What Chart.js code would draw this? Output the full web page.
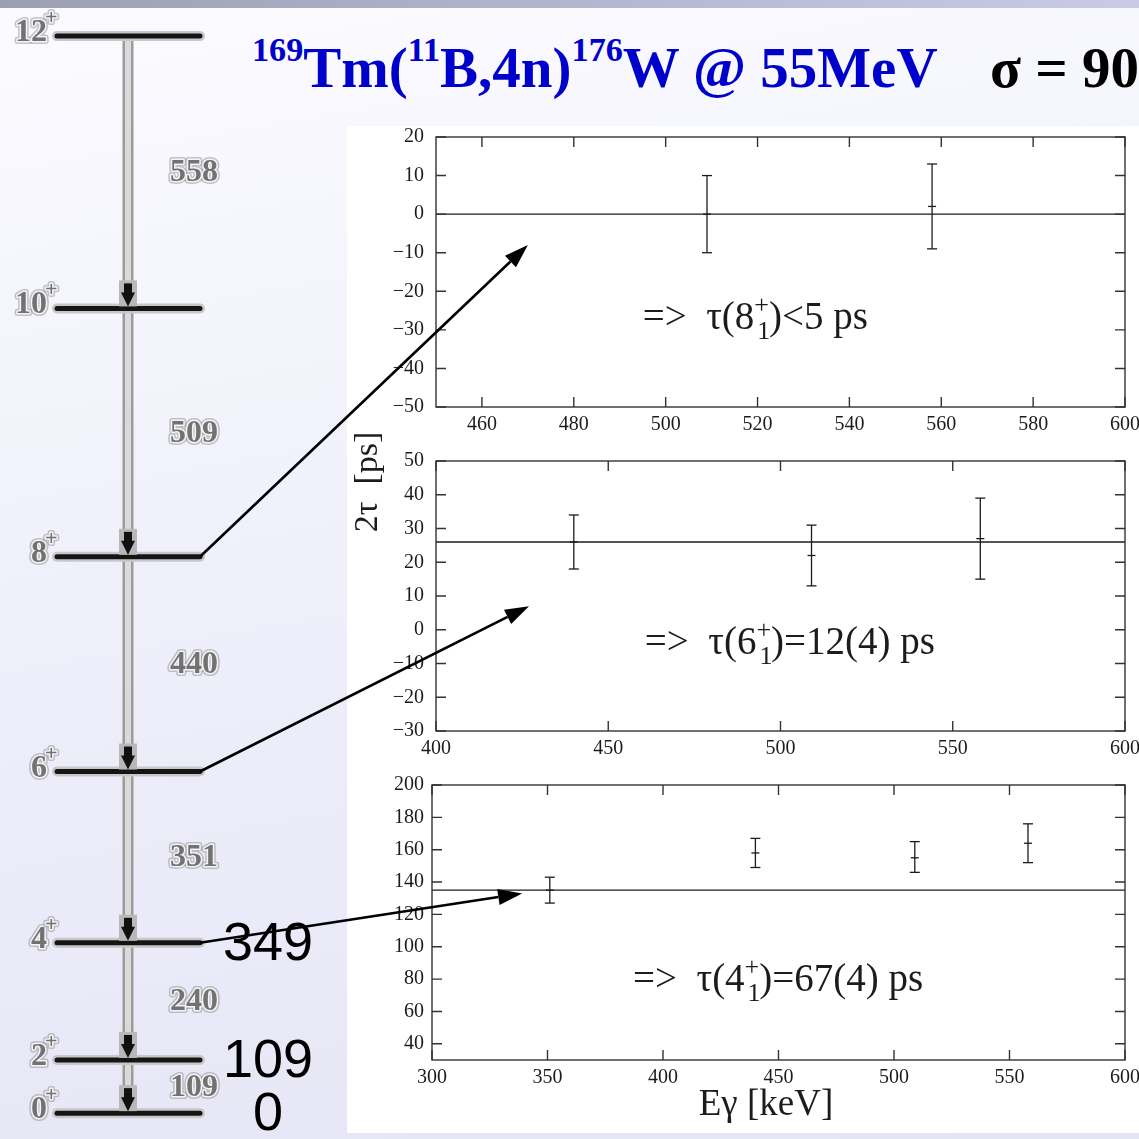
<!DOCTYPE html>
<html>
<head>
<meta charset="utf-8">
<title>176W lifetimes</title>
<script src="https://cdn.jsdelivr.net/npm/chart.js@4.4.1/dist/chart.umd.min.js"></script>
<style>
  html, body { margin: 0; padding: 0; }
  body {
    width: 1139px; height: 1139px; overflow: hidden; position: relative;
    background: linear-gradient(170deg, #fbfbff 0%, #f0f0fb 45%, #e4e4f5 100%);
  }
  #band { position: absolute; left: 0; top: 0; width: 1139px; height: 8px;
    background: linear-gradient(90deg, #9d9db3, #b9b9d3 60%, #cacae6); }
  #paper { position: absolute; left: 347px; top: 126px; width: 792px; height: 1007px; background: #fff; }
  canvas { position: absolute; }
  .head { position: absolute; top: 33px; font: bold 57px "Liberation Serif", serif; line-height: 70px; white-space: nowrap; }
  .head sup { font-size: 0.6em; vertical-align: baseline; position: relative; top: -0.75em; }
</style>
</head>
<body>
<div id="band"></div>
<div id="paper"></div>
<div class="head" style="left:252px;color:#0000cc"><sup>169</sup>Tm(<sup>11</sup>B,4n)<sup>176</sup>W @ 55MeV</div>
<div class="head" style="left:990px;color:#000">σ = 90°</div>
<canvas id="levels" width="350" height="1139" style="left:0;top:0"></canvas>
<canvas id="p1" width="813" height="310" style="left:347px;top:125px"></canvas>
<canvas id="p2" width="813" height="340" style="left:347px;top:420px"></canvas>
<canvas id="p3" width="813" height="369" style="left:347px;top:770px"></canvas>
<canvas id="arrows" width="1139" height="1139" style="left:0;top:0"></canvas>
<script>
// ground band of 176W
const spins = [0, 2, 4, 6, 8, 10, 12];
const levelE = [0, 109, 349, 700, 1140, 1649, 2207];
const gammaE = [109, 240, 351, 440, 509, 558];
const markedE = [349, 109, 0];

// 2tau vs E_gamma, one panel per level
const e8 = [509, 558];
const t8 = [0, 2];
const lo8 = [-10, -9];
const hi8 = [10, 13];
const fit8 = 0;

const e6 = [440, 509, 558];
const t6 = [26, 22, 27];
const lo6 = [18, 13, 15];
const hi6 = [34, 31, 39];
const fit6 = 26;

const e4 = [351, 440, 509, 558];
const t4 = [135, 158, 155, 164];
const lo4 = [127, 149, 146, 152];
const hi4 = [143, 167, 165, 176];
const fit4 = 135;

const xTicks8 = [460, 480, 500, 520, 540, 560, 580, 600];
const yTicks8 = [-50, -40, -30, -20, -10, 0, 10, 20];
const xTicks6 = [400, 450, 500, 550, 600];
const yTicks6 = [-30, -20, -10, 0, 10, 20, 30, 40, 50];
const xTicks4 = [300, 350, 400, 450, 500, 550, 600];
const yTicks4 = [40, 60, 80, 100, 120, 140, 160, 180, 200];

// arrows: from level (energy) to a spot inside the panel (data units)
const arrowFromE = [1140, 700, 349];
const arrowToX = [470, 427, 339];
const arrowToY = [-8, 7, 133];

const ink = '#1c1c1c';
const serif = '"Liberation Serif", "Times New Roman", serif';
const fmt = v => (v < 0 ? '\u2212' + Math.abs(v) : String(v));

// ---- level scheme ----
const levelLeft = 57, levelRight = 200, stemX = 128;

function ghost(ctx, txt, px, py, align, font) {
  ctx.font = font;
  ctx.textAlign = align;
  ctx.lineJoin = 'round';
  ctx.strokeStyle = 'rgba(140,140,150,0.5)';
  ctx.lineWidth = 6;
  ctx.strokeText(txt, px, py);
  ctx.strokeStyle = '#f4f4f4';
  ctx.lineWidth = 3;
  ctx.strokeText(txt, px, py);
  ctx.fillStyle = '#727272';
  ctx.fillText(txt, px, py);
}

const schemeText = {
  id: 'schemeText',
  afterDatasetsDraw(chart) {
    const {ctx, scales: {x, y}} = chart;
    ctx.save();
    // arrow tips of the stem
    const sx = x.getPixelForValue(stemX);
    levelE.slice(0, -1).forEach(E => {
      const py = y.getPixelForValue(E) - 2;
      ctx.fillStyle = '#b8b8b8';
      ctx.fillRect(sx - 9, py - 26, 18, 26);
      ctx.fillStyle = '#111';
      ctx.beginPath();
      ctx.moveTo(sx - 7, py - 14);
      ctx.lineTo(sx + 7, py - 14);
      ctx.lineTo(sx, py);
      ctx.closePath();
      ctx.fill();
      ctx.fillRect(sx - 4, py - 23, 8, 10);
    });
    ctx.textBaseline = 'alphabetic';
    spins.forEach((s, i) => {
      const py = y.getPixelForValue(levelE[i]);
      ghost(ctx, String(s), x.getPixelForValue(47), py + 5, 'right', 'bold 32px ' + serif);
      ghost(ctx, '+', x.getPixelForValue(45), py - 12, 'left', 'bold 22px ' + serif);
    });
    gammaE.forEach((g, i) => {
      const py = y.getPixelForValue((levelE[i] + levelE[i + 1]) / 2);
      ghost(ctx, String(g), x.getPixelForValue(194), py + 9, 'center', 'bold 32px ' + serif);
    });
    ctx.fillStyle = '#000';
    ctx.textAlign = 'center';
    ctx.textBaseline = 'middle';
    ctx.font = '54px "Liberation Sans", Arial, sans-serif';
    markedE.forEach(E => ctx.fillText(String(E), x.getPixelForValue(268), y.getPixelForValue(E) + 2));
    ctx.restore();
  }
};

// Chart.js paints the first dataset on top, so levels come first
const schemeSets = [];
levelE.forEach(E => schemeSets.push({
  data: [{x: levelLeft, y: E}, {x: levelRight, y: E}], borderColor: '#151515', borderWidth: 5, borderCapStyle: 'round'
}));
levelE.forEach(E => schemeSets.push({
  data: [{x: levelLeft, y: E}, {x: levelRight, y: E}], borderColor: '#c8c8c8', borderWidth: 10, borderCapStyle: 'round'
}));
schemeSets.push(
  {data: [{x: stemX, y: levelE[0]}, {x: stemX, y: levelE[levelE.length - 1]}], borderColor: '#dadada', borderWidth: 6},
  {data: [{x: stemX, y: levelE[0]}, {x: stemX, y: levelE[levelE.length - 1]}], borderColor: '#9c9c9c', borderWidth: 11}
);
schemeSets.forEach(d => { d.showLine = true; d.pointRadius = 0; });

const scheme = new Chart(document.getElementById('levels'), {
  type: 'scatter',
  data: {datasets: schemeSets},
  options: {
    responsive: false, animation: false, devicePixelRatio: 1,
    layout: {padding: 0, autoPadding: false},
    plugins: {legend: {display: false}, tooltip: {enabled: false}},
    scales: {
      x: {type: 'linear', min: 0, max: 350, display: false},
      y: {type: 'linear', min: -53, max: 2281, display: false}
    }
  },
  plugins: [schemeText]
});

// ---- panels ----
function drawNote(ctx, px, py, spin, rest) {
  ctx.fillStyle = ink;
  ctx.textAlign = 'left';
  ctx.textBaseline = 'alphabetic';
  ctx.font = '39px ' + serif;
  const head = '=>  \u03c4(' + spin;
  ctx.fillText(head, px, py);
  let x = px + ctx.measureText(head).width;
  ctx.font = '26px ' + serif;
  ctx.fillText('+', x, py - 16);
  ctx.fillText('1', x + 3, py + 10);
  x += ctx.measureText('+').width;
  ctx.font = '39px ' + serif;
  ctx.fillText(')' + rest, x, py);
}

const frame = {
  id: 'frame',
  afterDraw(chart, args, o) {
    const {ctx, chartArea: a, scales: {x, y}} = chart;
    ctx.save();
    ctx.strokeStyle = '#333';
    ctx.lineWidth = 1.4;
    ctx.strokeRect(a.left, a.top, a.right - a.left, a.bottom - a.top);
    ctx.beginPath();
    x.ticks.forEach(t => {
      const px = x.getPixelForValue(t.value);
      ctx.moveTo(px, a.bottom); ctx.lineTo(px, a.bottom - 10);
      ctx.moveTo(px, a.top); ctx.lineTo(px, a.top + 10);
    });
    y.ticks.forEach(t => {
      const py = y.getPixelForValue(t.value);
      ctx.moveTo(a.left, py); ctx.lineTo(a.left + 10, py);
      ctx.moveTo(a.right, py); ctx.lineTo(a.right - 10, py);
    });
    ctx.stroke();
    const n = o.note;
    drawNote(ctx, x.getPixelForValue(n.x), y.getPixelForValue(n.y), n.spin, n.rest);
    ctx.fillStyle = ink;
    ctx.textAlign = 'center';
    ctx.textBaseline = 'middle';
    if (o.yTitle) {
      ctx.save();
      ctx.translate(o.yTitle.x, o.yTitle.y);
      ctx.rotate(-Math.PI / 2);
      ctx.font = '34px ' + serif;
      ctx.fillText('2\u03c4  [ps]', 0, 0);
      ctx.restore();
    }
    if (o.xTitle) {
      ctx.font = '37px ' + serif;
      ctx.fillText('E\u03b3 [keV]', o.xTitle.x, o.xTitle.y);
    }
    ctx.restore();
  }
};

function panel(id, d, lay) {
  const sets = [{
    data: [{x: d.xMin, y: d.fit}, {x: d.xMax, y: d.fit}],
    showLine: true, borderColor: ink, borderWidth: 1.3, pointRadius: 0
  }];
  d.e.forEach((e, i) => sets.push({
    data: [{x: e, y: d.lo[i]}, {x: e, y: d.val[i]}, {x: e, y: d.hi[i]}],
    showLine: true, borderColor: ink, borderWidth: 1.3,
    pointStyle: 'line', pointRadius: [5, 4, 5], pointBorderColor: ink, pointBorderWidth: 1.3
  }));
  const tickFont = {family: serif, size: 20};
  return new Chart(document.getElementById(id), {
    type: 'scatter',
    data: {datasets: sets},
    options: {
      responsive: false, animation: false, devicePixelRatio: 1,
      layout: {padding: {top: lay.top, right: 35, left: 0, bottom: 0}, autoPadding: false},
      plugins: {legend: {display: false}, tooltip: {enabled: false},
        frame: {note: lay.note, yTitle: lay.yTitle, xTitle: lay.xTitle}},
      scales: {
        x: {
          type: 'linear', min: d.xMin, max: d.xMax, bounds: 'data',
          grid: {display: false, drawTicks: false}, border: {display: false},
          ticks: {font: tickFont, color: ink, padding: 6, maxRotation: 0, autoSkip: false},
          afterBuildTicks: s => { s.ticks = d.xTicks.map(v => ({value: v})); },
          afterFit: s => { s.height = lay.xH; s.paddingLeft = 0; s.paddingRight = 0; }
        },
        y: {
          type: 'linear', min: d.yMin, max: d.yMax, bounds: 'data',
          grid: {display: false, drawTicks: false}, border: {display: false},
          ticks: {font: tickFont, color: ink, padding: lay.yPad, autoSkip: false, callback: v => fmt(v)},
          afterBuildTicks: s => { s.ticks = d.yTicks.map(v => ({value: v})); },
          afterFit: s => { s.width = lay.yW; s.paddingTop = 0; s.paddingBottom = 0; }
        }
      }
    },
    plugins: [frame]
  });
}

const c8 = panel('p1',
  {e: e8, val: t8, lo: lo8, hi: hi8, fit: fit8, xMin: 450, xMax: 600, yMin: -50, yMax: 20, xTicks: xTicks8, yTicks: yTicks8},
  {top: 12, xH: 28, yW: 89, yPad: 12, note: {x: 495, y: -29.7, spin: '8', rest: '<5 ps'}});
const c6 = panel('p2',
  {e: e6, val: t6, lo: lo6, hi: hi6, fit: fit6, xMin: 400, xMax: 600, yMin: -30, yMax: 50, xTicks: xTicks6, yTicks: yTicks6},
  {top: 41, xH: 29, yW: 89, yPad: 12, note: {x: 460.6, y: -7.3, spin: '6', rest: '=12(4) ps'}, yTitle: {x: 21, y: 62}});
const c4 = panel('p3',
  {e: e4, val: t4, lo: lo4, hi: hi4, fit: fit4, xMin: 300, xMax: 600, yMin: 30, yMax: 200, xTicks: xTicks4, yTicks: yTicks4},
  {top: 15, xH: 79, yW: 85, yPad: 8, note: {x: 387, y: 72.5, spin: '4', rest: '=67(4) ps'}, xTitle: {x: 419, y: 335}});

// ---- arrows linking the scheme to the panels ----
const ac = document.getElementById('arrows').getContext('2d');
const targets = [c8, c6, c4];
ac.strokeStyle = '#000';
ac.fillStyle = '#000';
ac.lineWidth = 2.6;
arrowFromE.forEach((E, i) => {
  const x0 = scheme.canvas.offsetLeft + scheme.scales.x.getPixelForValue(levelRight);
  const y0 = scheme.canvas.offsetTop + scheme.scales.y.getPixelForValue(E);
  const ch = targets[i];
  const x1 = ch.canvas.offsetLeft + ch.scales.x.getPixelForValue(arrowToX[i]);
  const y1 = ch.canvas.offsetTop + ch.scales.y.getPixelForValue(arrowToY[i]);
  const ang = Math.atan2(y1 - y0, x1 - x0);
  const L = 24, W = 8;
  const bx = x1 - L * Math.cos(ang), by = y1 - L * Math.sin(ang);
  ac.beginPath();
  ac.moveTo(x0, y0);
  ac.lineTo(bx, by);
  ac.stroke();
  ac.beginPath();
  ac.moveTo(x1, y1);
  ac.lineTo(bx + W * Math.sin(ang), by - W * Math.cos(ang));
  ac.lineTo(bx - W * Math.sin(ang), by + W * Math.cos(ang));
  ac.closePath();
  ac.fill();
});
</script>
</body>
</html>
